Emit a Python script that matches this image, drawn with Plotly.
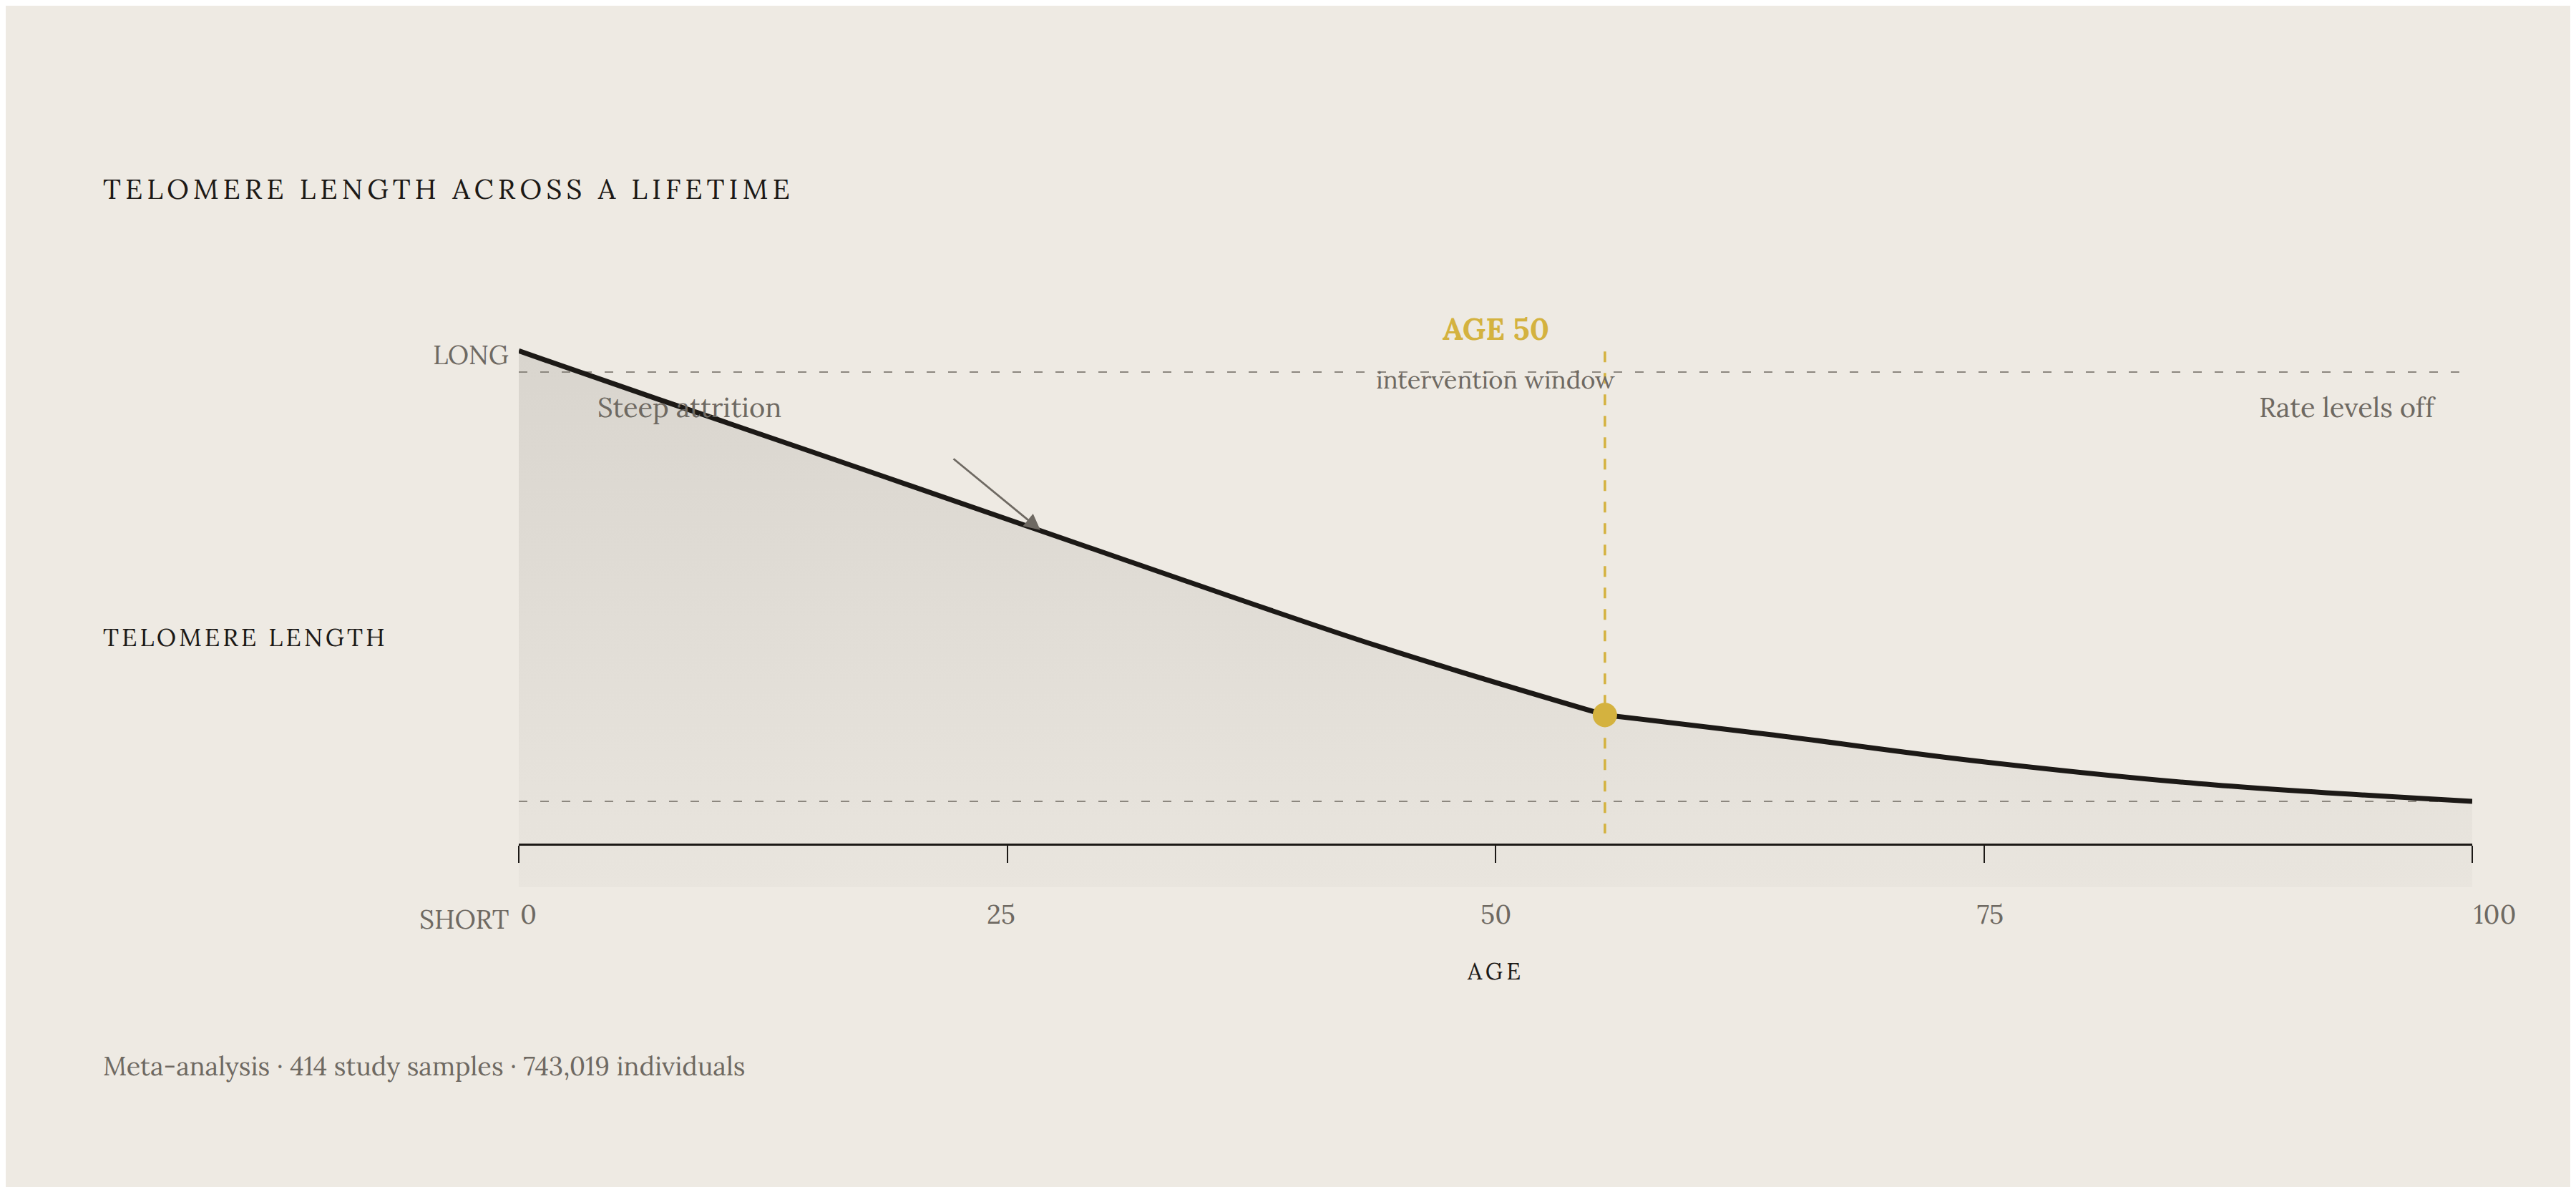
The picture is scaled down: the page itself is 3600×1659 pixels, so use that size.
import plotly.graph_objects as go

# telomere curve (age in years, relative length)
age = [0, 7.1, 18.9, 31.1, 44.0, 55.6, 64.0, 74.5, 86.0, 100]
length = [93.7, 85.3, 71.5, 57.1, 42.1, 30.1, 26.7, 22.1, 18.1, 15.0]

tick_vals = [0, 25, 50, 75, 100]
tick_text = ["0", "25", "50", "75", "100"]

ref_long = 90     # upper dashed guide
ref_short = 15    # lower dashed guide

marker_age = 55.6
marker_len = 30.1
marker_span = [93.6, 9.4]

arrow_tip = [26.7, 62.4]
arrow_tail = [22.2, 75.0]

BG = "#EEEAE3"
INK = "#1C1916"
GRAY = "#6E6962"
DASH = "#8C877F"
GOLD = "#D4B23F"
FONT = "Lora, 'Liberation Serif', serif"

W, H = 3600, 1659
OFF = 8  # page margin the browser adds around the plot div
L, R, T, B = 717, 153, 432, 427
PW, PH = W - L - R, H - T - B


def px_x(px):
    return (px - OFF - L) / PW


def px_y(py):
    return (T + PH - (py - OFF)) / PH


def spaced(text, px):
    return f'<span style="letter-spacing:{px}px">{text}</span>'


k = age.index(marker_age)  # the curve bends at the marked age

fig = go.Figure()

# shaded area under the curve
fig.add_trace(go.Scatter(
    x=age, y=length, mode="lines", fill="tozeroy",
    line=dict(width=0),
    fillgradient=dict(type="vertical", start=0, stop=max(length),
                      colorscale=[[0, "#E9E5DE"], [1, "#D9D5CE"]]),
    hoverinfo="skip", showlegend=False,
))

# dashed guides
for lvl in [ref_long, ref_short]:
    fig.add_trace(go.Scatter(
        x=[tick_vals[0], tick_vals[-1]], y=[lvl, lvl], mode="lines",
        line=dict(color=DASH, width=2, dash="12px,18px"),
        hoverinfo="skip", showlegend=False,
    ))

# age-50 marker line
fig.add_trace(go.Scatter(
    x=[marker_age, marker_age], y=marker_span, mode="lines",
    line=dict(color=GOLD, width=3.5, dash="15px,15px"),
    hoverinfo="skip", showlegend=False,
))

# main curve, drawn in two pieces so the bend stays crisp
for xs, ys in [(age[:k + 1], length[:k + 1]), (age[k:], length[k:])]:
    fig.add_trace(go.Scatter(
        x=xs, y=ys, mode="lines",
        line=dict(color=INK, width=7, shape="spline", smoothing=1),
        showlegend=False,
    ))

fig.add_trace(go.Scatter(
    x=[marker_age], y=[marker_len], mode="markers",
    marker=dict(color=GOLD, size=34, line=dict(width=0)),
    showlegend=False,
))

ann = []
ann.append(dict(x=px_x(142), y=px_y(264), xref="paper", yref="paper",
                text=spaced("TELOMERE LENGTH ACROSS A LIFETIME", 6),
                xanchor="left", yanchor="middle", showarrow=False,
                font=dict(size=39, color=INK)))
ann.append(dict(x=px_x(142), y=px_y(890), xref="paper", yref="paper",
                text=spaced("TELOMERE LENGTH", 4),
                xanchor="left", yanchor="middle", showarrow=False,
                font=dict(size=34.5, color=INK)))
ann.append(dict(x=px_x(713), y=px_y(496), xref="paper", yref="paper",
                text="LONG", xanchor="right", yanchor="middle", showarrow=False,
                font=dict(size=37, color=GRAY)))
ann.append(dict(x=px_x(713), y=px_y(1284), xref="paper", yref="paper",
                text="SHORT", xanchor="right", yanchor="middle", showarrow=False,
                font=dict(size=37, color=GRAY)))
label_shift = [0, -9, 0, 9, 0]
for v, t, s in zip(tick_vals, tick_text, label_shift):
    anchor = "left" if v in (tick_vals[0], tick_vals[-1]) else "center"
    ann.append(dict(x=v, y=px_y(1277), xref="x", yref="paper", text=t,
                    xanchor=anchor, yanchor="middle", showarrow=False, xshift=s,
                    font=dict(size=37, color=GRAY)))
ann.append(dict(x=50, y=px_y(1357), xref="x", yref="paper",
                text=spaced("AGE", 5), xanchor="center", yanchor="middle",
                showarrow=False, font=dict(size=32, color=INK)))
ann.append(dict(x=px_x(142), y=px_y(1490), xref="paper", yref="paper",
                text="Meta-analysis · 414 study samples · 743,019 individuals",
                xanchor="left", yanchor="middle", showarrow=False,
                font=dict(size=36, color=GRAY)))
ann.append(dict(x=px_x(833), y=px_y(569), xref="paper", yref="paper",
                text="Steep attrition", xanchor="left", yanchor="middle",
                showarrow=False, font=dict(size=38, color=GRAY)))
ann.append(dict(x=px_x(3406), y=px_y(569), xref="paper", yref="paper",
                text="Rate levels off", xanchor="right", yanchor="middle",
                showarrow=False, font=dict(size=38, color=GRAY)))
ann.append(dict(x=50, y=px_y(459), xref="x", yref="paper",
                text="<b>AGE 50</b>", xanchor="center", yanchor="middle",
                showarrow=False, font=dict(size=43, color=GOLD)))
ann.append(dict(x=50, y=px_y(530), xref="x", yref="paper",
                text="intervention window", xanchor="center", yanchor="middle",
                showarrow=False, font=dict(size=34.5, color=GRAY)))
# pointer onto the curve
ann.append(dict(x=arrow_tip[0], y=arrow_tip[1], ax=arrow_tail[0], ay=arrow_tail[1],
                xref="x", yref="y", axref="x", ayref="y", text="",
                showarrow=True, arrowhead=2, arrowsize=1.6, arrowwidth=2.8,
                arrowcolor=GRAY, standoff=0))

fig.update_layout(
    width=W, height=H, autosize=False,
    margin=dict(l=L, r=R, t=T, b=B),
    paper_bgcolor=BG, plot_bgcolor="rgba(0,0,0,0)",
    font=dict(family=FONT),
    annotations=ann,
    xaxis=dict(range=[0, 100], anchor="free", position=px_y(1180),
               showline=True, linecolor=INK, linewidth=3,
               ticks="outside", ticklen=24, tickwidth=1.5, tickcolor=INK,
               tickvals=tick_vals, showticklabels=False,
               showgrid=False, zeroline=False, fixedrange=True),
    yaxis=dict(range=[0, 100], visible=False, fixedrange=True),
    hovermode=False,
)

fig.write_html("out.html")
